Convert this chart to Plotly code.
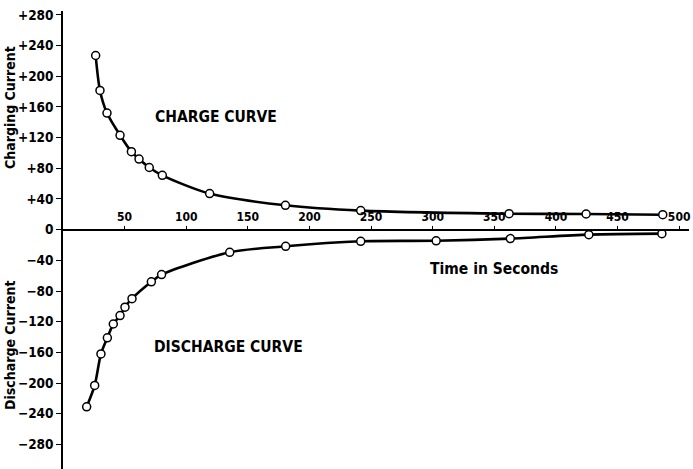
import plotly.graph_objects as go

# Charge curve (time in s, charging current)
charge_t = [26.5, 30, 35.7, 46.3, 55.5, 61.7, 70, 80.6, 119, 180.5, 241.6, 362, 424.5, 486.7]
charge_i = [227, 181.5, 152, 123, 101.6, 92, 81, 70.8, 47, 31.7, 24.8, 20.8, 20.4, 19.5]

# Discharge curve (time in s, discharge current)
discharge_t = [19.2, 25.7, 30.8, 36, 40.8, 46.3, 50.3, 56, 71.7, 80, 135.3, 180.7, 241.6, 302.8, 363, 426.7, 486]
discharge_i = [-231, -203, -162, -141, -123, -112, -101, -90, -68, -58.6, -29.5, -21.7, -15.2, -14.5, -11.7, -6.5, -5.2]

x_ticks = [50, 100, 150, 200, 250, 300, 350, 400, 450, 500]
y_ticks = [280, 240, 200, 160, 120, 80, 40, 0, -40, -80, -120, -160, -200, -240, -280]
y_tick_text = ["+280", "+240", "+200", "+160", "+120", "+80", "+40", "0",
               "\u221240", "\u221280", "\u2212120", "\u2212160", "\u2212200", "\u2212240", "\u2212280"]

FONT = "Liberation Sans Narrow, DejaVu Sans Condensed, Liberation Sans, Arial"
y_min, y_max = -312, 285
x_min, x_max = 0, 508

W, H = 693, 469
L, R, T, B = 63, 4, 11, 0
PW, PH = W - L - R, H - T - B

fig = go.Figure()
for t, i in [(charge_t, charge_i), (discharge_t, discharge_i)]:
    fig.add_trace(go.Scatter(
        x=t, y=i, mode="lines+markers",
        line=dict(color="black", width=2.6, shape="spline", smoothing=0.8),
        marker=dict(symbol="circle", size=8, color="white",
                    line=dict(color="black", width=1.5)),
        showlegend=False, hoverinfo="skip"))

fig.update_layout(
    width=W, height=H,
    margin=dict(l=L, r=R, t=T, b=B),
    paper_bgcolor="white", plot_bgcolor="white",
    font=dict(family=FONT, color="black"),
    xaxis=dict(
        range=[x_min, x_max], anchor="free", automargin=False,
        position=(0 - y_min) / (y_max - y_min), side="top",
        showline=True, linecolor="black", linewidth=1.6,
        ticks="outside", ticklen=3, tickwidth=1.2, tickcolor="black",
        tickvals=x_ticks, tickfont=dict(size=12, family=FONT, weight="bold"),
        showgrid=False, zeroline=False,
    ),
    yaxis=dict(
        range=[y_min, y_max], automargin=False,
        showline=True, linecolor="black", linewidth=1.6,
        ticks="outside", ticklen=5, tickwidth=1.2, tickcolor="black",
        tickvals=y_ticks, ticktext=y_tick_text,
        tickfont=dict(size=13.5, family=FONT, weight="bold"),
        showgrid=False, zeroline=False,
    ),
)

annots = [
    dict(text="Charging Current", x=10, y=108, angle=-90, size=14),
    dict(text="Discharge Current", x=10, y=345, angle=-90, size=14),
    dict(text="CHARGE CURVE", x=216, y=117, angle=0, size=15.5),
    dict(text="DISCHARGE CURVE", x=228, y=347, angle=0, size=15.5),
    dict(text="Time in Seconds", x=494, y=269, angle=0, size=15.5),
]
for a in annots:
    fig.add_annotation(
        text=a["text"], xref="paper", yref="paper",
        x=(a["x"] - L) / PW, y=(H - B - a["y"]) / PH,
        xanchor="center", yanchor="middle", showarrow=False,
        textangle=a["angle"],
        font=dict(size=a["size"], family=FONT, weight="bold", color="black"))

fig.write_html("out.html", config={"displayModeBar": False},
               post_script="document.body.style.margin='0';document.body.style.overflow='hidden';")
